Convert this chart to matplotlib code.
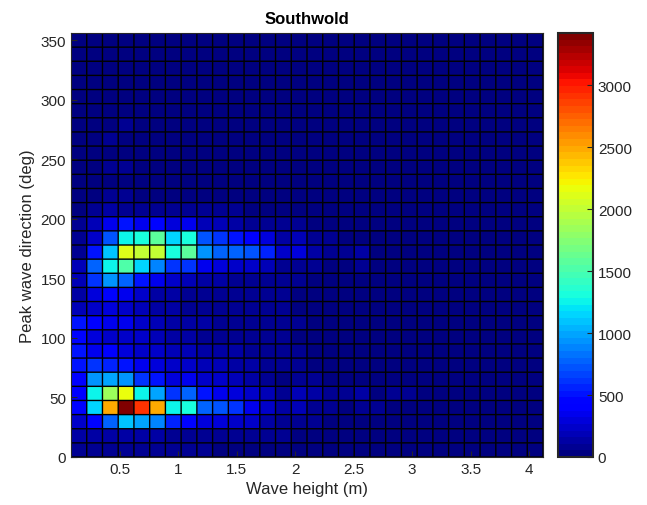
import numpy as np
import matplotlib.pyplot as plt

plt.rcParams['font.family'] = ['Liberation Sans', 'DejaVu Sans']

# bin edges (wave height in m, direction in deg)
height_edges = np.linspace(0.082, 4.12, 31)
dir_edges = np.linspace(0, 356, 31)

# counts per bin, one list per direction row (bottom row first)
row00 = [90, 80, 80, 85, 75, 70, 65, 60, 55, 50, 50, 45, 45, 40, 40, 38, 35, 32, 30, 30, 28, 28, 26, 26, 25, 25, 25, 24, 24, 24]
row01 = [120, 125, 140, 145, 125, 120, 100, 95, 80, 75, 70, 65, 60, 55, 50, 45, 40, 35, 35, 32, 30, 30, 28, 28, 26, 26, 25, 25, 25, 24]
row02 = [240, 480, 800, 1095, 965, 855, 535, 480, 310, 287, 263, 215, 150, 72, 96, 72, 49, 40, 38, 35, 32, 30, 28, 28, 26, 26, 25, 25, 25, 25]
row03 = [430, 1125, 2475, 3420, 2935, 2475, 1280, 1330, 800, 695, 590, 350, 263, 144, 192, 96, 72, 49, 96, 72, 49, 35, 30, 28, 28, 26, 26, 25, 25, 25]
row04 = [410, 1250, 1860, 2190, 1280, 1015, 640, 750, 490, 360, 311, 263, 192, 96, 192, 120, 96, 96, 120, 49, 96, 72, 49, 35, 30, 28, 26, 26, 25, 25]
row05 = [420, 910, 965, 910, 590, 490, 311, 360, 263, 215, 168, 120, 96, 49, 96, 72, 49, 40, 35, 32, 30, 28, 28, 26, 26, 25, 25, 25, 24, 24]
row06 = [490, 640, 535, 490, 335, 311, 239, 239, 192, 168, 144, 120, 96, 72, 60, 50, 40, 35, 30, 30, 28, 28, 26, 26, 25, 25, 25, 24, 24, 24]
row07 = [490, 335, 400, 311, 263, 215, 192, 168, 144, 120, 120, 96, 96, 72, 60, 50, 40, 35, 32, 30, 28, 28, 26, 26, 25, 25, 25, 24, 24, 24]
row08 = [450, 287, 263, 239, 215, 168, 144, 120, 96, 96, 85, 80, 72, 60, 50, 45, 40, 35, 30, 30, 28, 26, 26, 25, 25, 25, 24, 24, 24, 24]
row09 = [490, 420, 335, 335, 239, 168, 144, 120, 120, 96, 90, 85, 80, 65, 55, 45, 40, 35, 32, 30, 28, 26, 26, 25, 25, 25, 24, 24, 24, 24]
row10 = [192, 263, 287, 239, 192, 120, 120, 96, 90, 80, 75, 72, 70, 60, 50, 45, 40, 35, 30, 30, 28, 26, 26, 25, 25, 24, 24, 24, 24, 24]
row11 = [144, 287, 480, 335, 215, 144, 120, 96, 85, 80, 75, 72, 70, 60, 50, 45, 40, 35, 30, 30, 28, 26, 26, 25, 25, 24, 24, 24, 24, 24]
row12 = [192, 640, 910, 750, 490, 335, 215, 192, 144, 120, 96, 96, 72, 72, 72, 49, 45, 40, 35, 30, 28, 26, 26, 25, 25, 25, 24, 24, 24, 24]
row13 = [192, 750, 1235, 1530, 1125, 855, 590, 640, 335, 287, 239, 215, 192, 96, 96, 72, 49, 49, 96, 35, 30, 28, 26, 26, 25, 25, 25, 24, 24, 24]
row14 = [96, 490, 1070, 2120, 1995, 1995, 1295, 1600, 910, 800, 750, 695, 535, 263, 311, 144, 96, 72, 120, 40, 30, 28, 26, 26, 25, 25, 25, 24, 24, 24]
row15 = [72, 263, 695, 1255, 1330, 1600, 1125, 1330, 695, 640, 490, 410, 311, 144, 168, 96, 72, 40, 35, 30, 28, 26, 26, 25, 25, 25, 24, 24, 24, 24]
row16 = [72, 168, 360, 490, 360, 480, 287, 335, 192, 168, 120, 96, 96, 72, 72, 49, 40, 35, 30, 28, 26, 26, 25, 25, 25, 24, 24, 24, 24, 24]
row17 = [49, 72, 144, 96, 72, 96, 72, 96, 72, 72, 60, 49, 49, 40, 35, 30, 28, 26, 26, 25, 25, 25, 24, 24, 24, 24, 24, 24, 24, 24]
row18 = [49, 49, 60, 96, 49, 45, 45, 40, 40, 35, 35, 30, 30, 28, 28, 26, 26, 25, 25, 25, 24, 24, 24, 24, 24, 24, 24, 24, 24, 24]
row19 = [40, 40, 45, 50, 40, 35, 35, 32, 30, 30, 28, 28, 26, 26, 26, 25, 25, 25, 25, 24, 24, 24, 24, 24, 24, 24, 24, 24, 24, 24]
row20 = [35, 40, 80, 80, 35, 32, 30, 30, 28, 28, 27, 26, 26, 26, 25, 25, 25, 25, 24, 24, 24, 24, 24, 24, 24, 24, 24, 24, 24, 24]
row21 = [32, 35, 40, 40, 32, 30, 30, 28, 28, 27, 26, 26, 26, 25, 25, 25, 25, 24, 24, 24, 24, 24, 24, 24, 24, 24, 24, 24, 24, 24]
row22 = [30, 32, 80, 40, 30, 30, 28, 28, 27, 26, 26, 26, 25, 25, 25, 25, 24, 24, 24, 24, 24, 24, 24, 24, 24, 24, 24, 24, 24, 24]
row23 = [30, 30, 35, 90, 30, 28, 28, 27, 26, 26, 26, 25, 25, 25, 25, 24, 24, 24, 24, 24, 24, 24, 24, 24, 24, 24, 24, 24, 24, 24]
row24 = [28, 30, 32, 35, 28, 28, 27, 26, 26, 26, 25, 25, 25, 25, 24, 24, 24, 24, 24, 24, 24, 24, 24, 24, 24, 24, 24, 24, 24, 24]
row25 = [28, 28, 30, 30, 27, 27, 26, 26, 26, 25, 25, 25, 25, 24, 24, 24, 24, 24, 24, 24, 24, 24, 24, 24, 24, 24, 24, 24, 24, 24]
row26 = [27, 28, 28, 28, 27, 26, 26, 26, 25, 25, 25, 25, 24, 24, 24, 24, 24, 24, 24, 24, 24, 24, 24, 24, 24, 24, 24, 24, 24, 24]
row27 = [26, 27, 27, 27, 26, 26, 26, 25, 25, 25, 25, 24, 24, 24, 24, 24, 24, 24, 24, 24, 24, 24, 24, 24, 24, 24, 24, 24, 24, 24]
row28 = [26, 26, 26, 26, 26, 25, 25, 25, 25, 25, 24, 24, 24, 24, 24, 24, 24, 24, 24, 24, 24, 24, 24, 24, 24, 24, 24, 24, 24, 24]
row29 = [25, 26, 26, 26, 25, 25, 25, 25, 24, 24, 24, 24, 24, 24, 24, 24, 24, 24, 24, 24, 24, 24, 24, 24, 24, 24, 24, 24, 24, 24]

counts = np.array([row00, row01, row02, row03, row04, row05, row06, row07, row08, row09,
                   row10, row11, row12, row13, row14, row15, row16, row17, row18, row19,
                   row20, row21, row22, row23, row24, row25, row26, row27, row28, row29])

txt = '#262626'

fig = plt.figure(figsize=(6.47, 5.06), dpi=100)
ax = fig.add_axes([71/647, 48/506, 472/647, 424/506])
cax = fig.add_axes([558/647, 48/506, 35/647, 424/506])

cmap = plt.get_cmap('jet', 64)
mesh = ax.pcolormesh(height_edges, dir_edges, counts, cmap=cmap, vmin=0, vmax=3420)

# cell borders drawn as plain lines so every one looks the same
ax.vlines(height_edges, dir_edges[0], dir_edges[-1], colors='k', linewidth=1.0, snap=False)
ax.hlines(dir_edges, height_edges[0], height_edges[-1], colors='k', linewidth=1.0, snap=False)

ax.set_xlim(height_edges[0], height_edges[-1])
ax.set_ylim(dir_edges[0], dir_edges[-1])
ax.set_xticks([0.5, 1, 1.5, 2, 2.5, 3, 3.5, 4])
ax.set_xticklabels(['0.5', '1', '1.5', '2', '2.5', '3', '3.5', '4'])
ax.set_yticks(np.arange(0, 351, 50))
ax.tick_params(direction='in', labelsize=11, colors=txt, length=4)
ax.set_xlabel('Wave height (m)', fontsize=12, color=txt)
ax.set_ylabel('Peak wave direction (deg)', fontsize=12, color=txt)
ax.set_title('Southwold', fontsize=12, fontweight='bold', color='k', pad=7)
for s in ax.spines.values():
    s.set_color(txt)

cb = fig.colorbar(mesh, cax=cax)
cb.set_ticks([0, 500, 1000, 1500, 2000, 2500, 3000])
cb.ax.tick_params(direction='in', labelsize=11, colors=txt, length=4)
cb.outline.set_edgecolor(txt)
cb.outline.set_linewidth(1.5)

fig.savefig('out.png', dpi=100)
